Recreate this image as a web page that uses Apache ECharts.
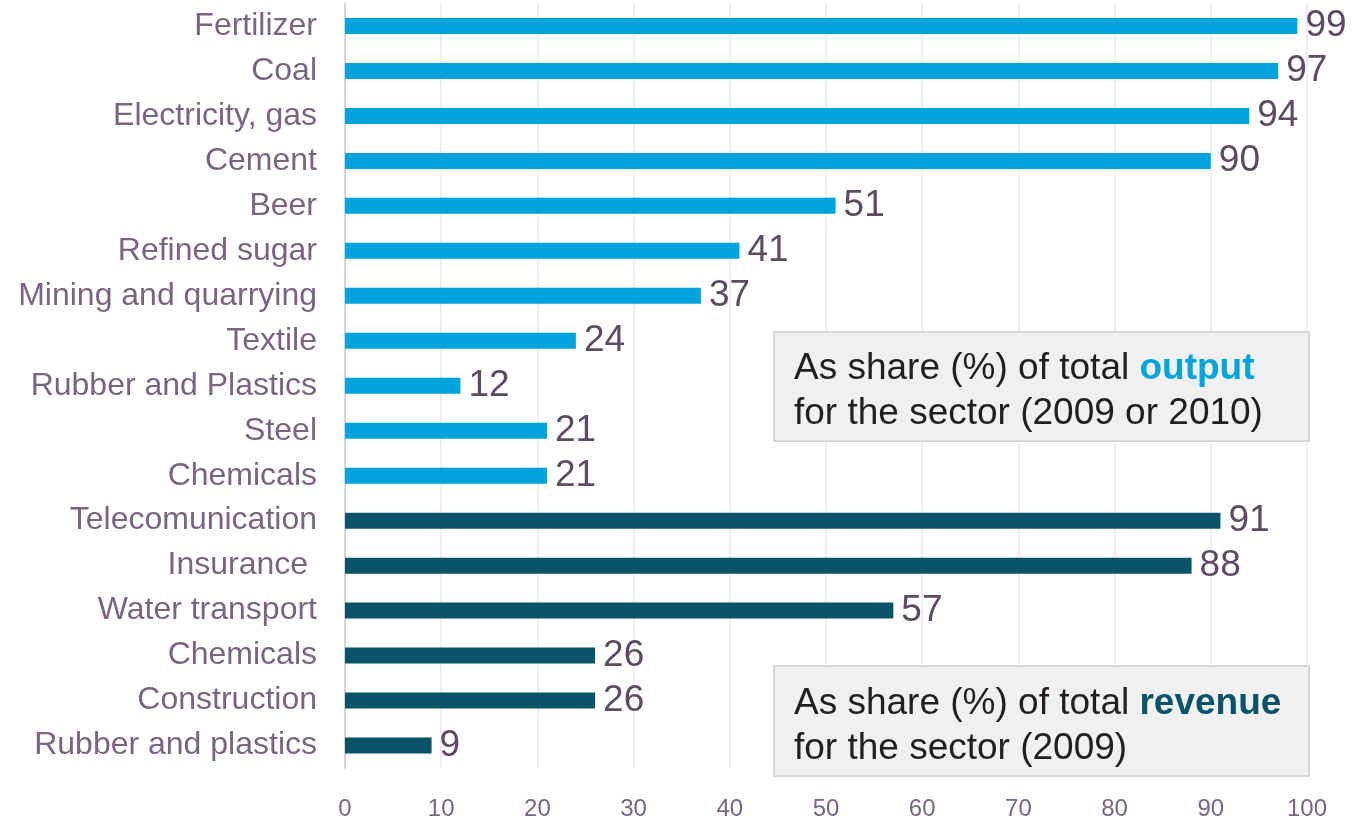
<!DOCTYPE html>
<html>
<head>
<meta charset="utf-8">
<script src="https://cdn.jsdelivr.net/npm/echarts@6/dist/echarts.min.js"></script>
<style>
  html, body { margin: 0; padding: 0; background: #ffffff; }
  #chart { width: 1367px; height: 821px; }
</style>
</head>
<body>
<div id="chart"></div>
<script>
// Share of state-owned enterprises by sector
const outputCategories = ['Fertilizer', 'Coal', 'Electricity, gas', 'Cement', 'Beer', 'Refined sugar',
  'Mining and quarrying', 'Textile', 'Rubber and Plastics', 'Steel', 'Chemicals'];
const outputValues = [99, 97, 94, 90, 51, 41, 37, 24, 12, 21, 21];

const revenueCategories = ['Telecomunication', 'Insurance ', 'Water transport', 'Chemicals', 'Construction', 'Rubber and plastics'];
const revenueValues = [91, 88, 57, 26, 26, 9];

const xTicks = [0, 10, 20, 30, 40, 50, 60, 70, 80, 90, 100];

const OUTPUT_COLOR = '#00a3db';
const REVENUE_COLOR = '#0b5369';
const LABEL_COLOR = '#7a6581';

const categories = outputCategories.concat(revenueCategories);
const barData = outputValues.map(v => ({ value: v, itemStyle: { color: OUTPUT_COLOR } }))
  .concat(revenueValues.map(v => ({ value: v, itemStyle: { color: REVENUE_COLOR } })));

const chart = echarts.init(document.getElementById('chart'), null, { renderer: 'canvas' });

const fontFamily = '"Liberation Sans", Arial, sans-serif';

// Grey note box with a coloured keyword on the first line
function noteBox(x, y, w, h, textTop, keyword, color, second) {
  return {
    type: 'group',
    left: x, top: y,
    z: 100,
    children: [
      {
        type: 'rect',
        z: 100,
        shape: { x: 0, y: 0, width: w, height: h },
        style: { fill: '#f0f0f0', stroke: '#d6d6d6', lineWidth: 2 }
      },
      {
        type: 'text',
        z: 101,
        x: 20, y: textTop,
        style: {
          text: '{n|As share (%) of total }{k|' + keyword + '}\n{n|' + second + '}',
          rich: {
            n: { fontSize: 37, fontFamily: fontFamily, fill: '#231f20', lineHeight: 45 },
            k: { fontSize: 37, fontFamily: fontFamily, fill: color, fontWeight: 'bold', lineHeight: 45 }
          }
        }
      }
    ]
  };
}

chart.setOption({
  animation: false,
  backgroundColor: '#ffffff',
  grid: { left: 345, right: 60, top: 3.5, bottom: 51, containLabel: false },
  xAxis: {
    type: 'value',
    min: 0, max: 100, interval: 10,
    axisLine: { show: false },
    axisTick: { show: false },
    splitLine: { show: true, lineStyle: { color: '#ebe8ec', width: 1.5 } },
    axisLabel: {
      color: LABEL_COLOR, fontSize: 24, fontFamily: fontFamily, margin: 29,
      formatter: v => (xTicks.indexOf(v) >= 0 ? String(v) : '')
    }
  },
  yAxis: {
    type: 'category',
    inverse: true,
    data: categories,
    axisLine: { show: true, lineStyle: { color: '#d9d4da', width: 2 } },
    axisTick: { show: false },
    axisLabel: { color: LABEL_COLOR, fontSize: 32, fontFamily: fontFamily, margin: 28 }
  },
  series: [{
    type: 'bar',
    data: barData,
    barWidth: 16,
    label: {
      show: true,
      position: 'right',
      distance: 8,
      color: '#5d4b62',
      fontSize: 37,
      fontFamily: fontFamily
    }
  }],
  graphic: [
    noteBox(773, 331, 535, 109, 14, 'output', OUTPUT_COLOR, 'for the sector (2009 or 2010)'),
    noteBox(773, 665, 535, 110, 15, 'revenue', REVENUE_COLOR, 'for the sector (2009)')
  ]
});
</script>
</body>
</html>
